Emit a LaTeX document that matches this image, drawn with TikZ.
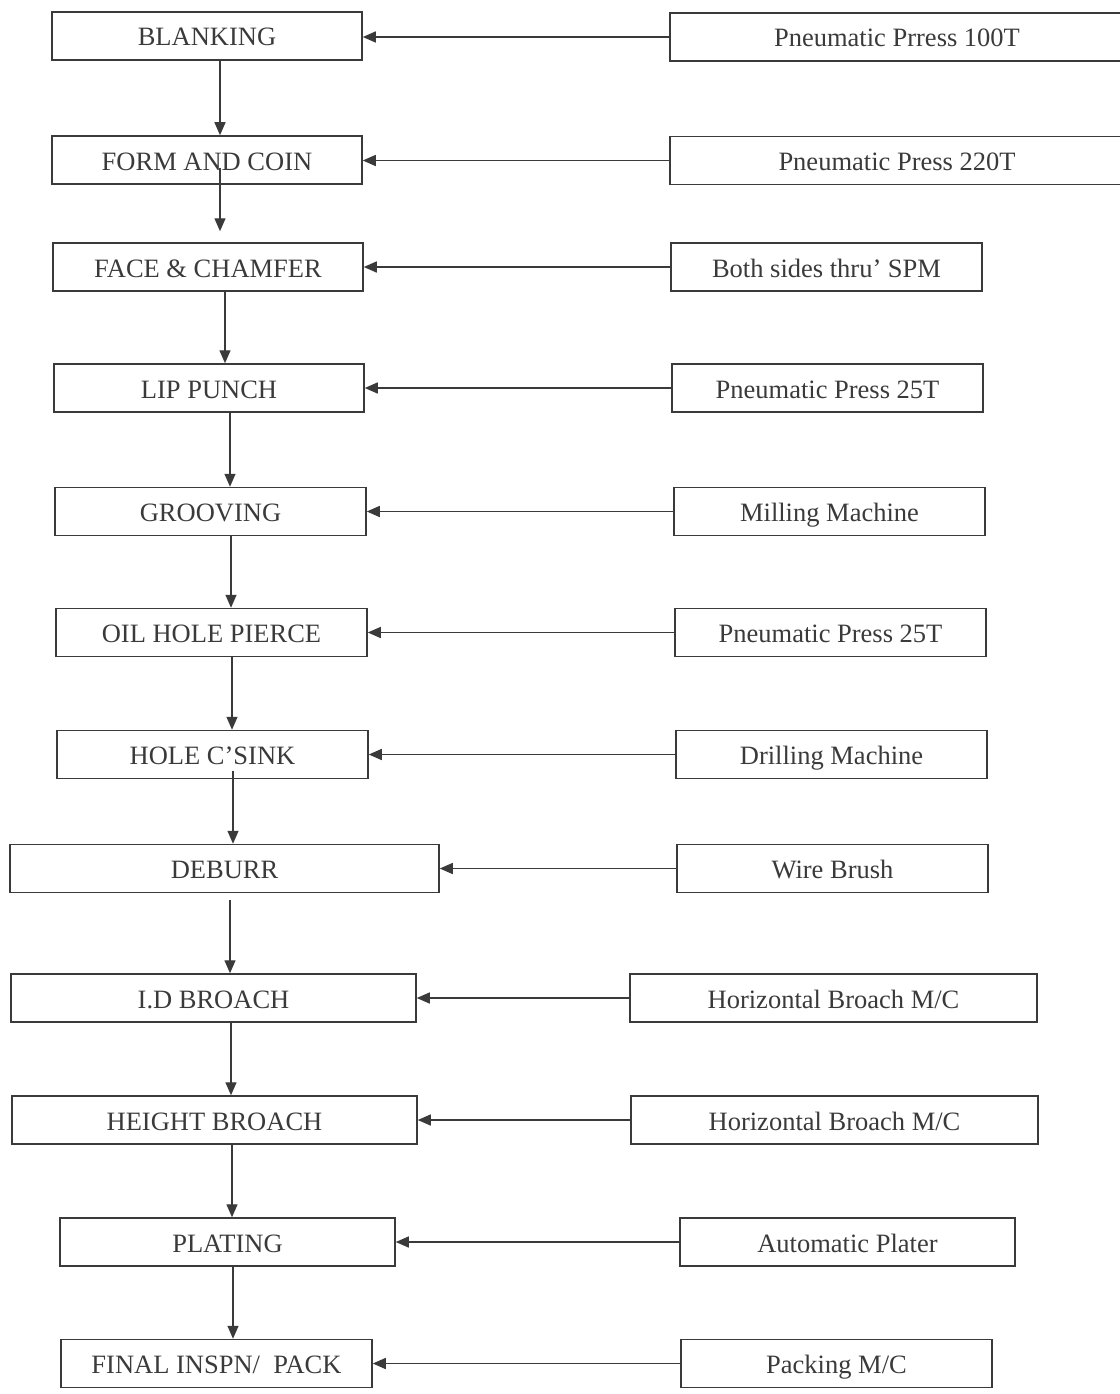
\documentclass[tikz,border=0pt]{standalone}
\usepackage{fontspec}
\setmainfont{Liberation Serif}
\usetikzlibrary{arrows.meta}
\definecolor{inkgray}{RGB}{58,58,58}

\begin{document}
\begin{tikzpicture}[x=1pt, y=-1pt,
    stepbox/.style={draw=inkgray, line width=1.5pt, text=inkgray, minimum width=311pt,
        minimum height=48pt, inner sep=0pt, text height=23pt, text depth=3pt,
        font=\fontsize{26.5}{30}\selectfont},
    toolbox/.style={stepbox},
    flow/.style={draw=inkgray, line width=1.4pt, -{Triangle[length=13pt,width=11pt]}}]
    \useasboundingbox (0,0) rectangle (1119,1394);

    % process steps
    \node[stepbox, minimum width=310pt] (blanking) at (207,36) {BLANKING};
    \node[stepbox, minimum width=310pt] (formcoin) at (207,160) {FORM AND COIN};
    \node[stepbox, minimum width=310pt] (facechamfer) at (208,267) {FACE \& CHAMFER};
    \node[stepbox, minimum width=310pt] (lippunch) at (209,388) {LIP PUNCH};
    \node[stepbox] (grooving) at (210.5,511.5) {GROOVING};
    \node[stepbox] (oilhole) at (211.5,632.5) {OIL HOLE PIERCE};
    \node[stepbox] (csink) at (212.5,754.5) {HOLE C’SINK};
    \node[stepbox, minimum width=429pt] (deburr) at (224.5,868.5) {DEBURR};
    \node[stepbox, minimum width=405pt] (idbroach) at (213.5,998) {I.D BROACH};
    \node[stepbox, minimum width=405pt] (heightbroach) at (214.5,1120) {HEIGHT BROACH};
    \node[stepbox, minimum width=335pt] (plating) at (227.5,1242) {PLATING};
    \node[stepbox] (finalpack) at (216.5,1363.5) {FINAL INSPN/~~PACK};

    % machines
    \node[toolbox, minimum width=454pt] (press100) at (897,37) {Pneumatic Prress 100T};
    \node[toolbox, minimum width=454pt] (press220) at (897,160.5) {Pneumatic Press 220T};
    \node[toolbox] (spm) at (826.5,267) {Both sides thru’ SPM};
    \node[toolbox] (press25a) at (827.5,388) {Pneumatic Press 25T};
    \node[toolbox] (milling) at (829.5,511.5) {Milling Machine};
    \node[toolbox] (press25b) at (830.5,632.5) {Pneumatic Press 25T};
    \node[toolbox] (drilling) at (831.5,754.5) {Drilling Machine};
    \node[toolbox] (wirebrush) at (832.5,868.5) {Wire Brush};
    \node[toolbox, minimum width=407pt] (hbroacha) at (833.5,998) {Horizontal Broach M/C};
    \node[toolbox, minimum width=407pt] (hbroachb) at (834.5,1120) {Horizontal Broach M/C};
    \node[toolbox, minimum width=335pt] (plater) at (847.5,1242) {Automatic Plater};
    \node[toolbox] (packing) at (836.5,1363.5) {Packing M/C};

    % machine to step
    \foreach \m/\s in {press100/blanking, press220/formcoin, spm/facechamfer,
        press25a/lippunch, milling/grooving, press25b/oilhole, drilling/csink,
        wirebrush/deburr, hbroacha/idbroach, hbroachb/heightbroach,
        plater/plating, packing/finalpack}
        \draw[flow] (\m.west) -- (\m.west -| \s.east);

    % step to step
    \foreach \a/\b/\x/\s/\e in {blanking/formcoin/220/0/0, formcoin/facechamfer/220/-17/11,
        facechamfer/lippunch/225/0/0, lippunch/grooving/230/0/0,
        grooving/oilhole/231/0/0, oilhole/csink/232/0/0, csink/deburr/233/-8/0,
        deburr/idbroach/230/7/0, idbroach/heightbroach/231/0/0,
        heightbroach/plating/232/0/0, plating/finalpack/233/0/0}
        \draw[flow, shorten <=\s pt, shorten >=\e pt] (\a.south -| \x,0) -- (\b.north -| \x,0);
\end{tikzpicture}
\end{document}
